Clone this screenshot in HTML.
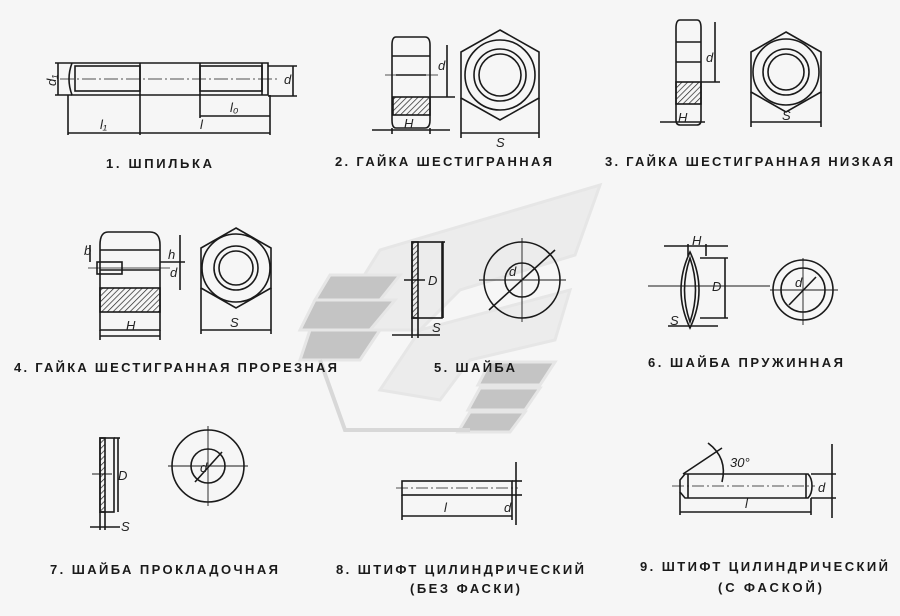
<!DOCTYPE html>
<html><head><meta charset="utf-8"><style>
html,body{margin:0;padding:0;background:#f6f6f6;}
svg{display:block}
text{font-family:"Liberation Sans",sans-serif;font-weight:bold;fill:#1a1a1a;}
.l{font-size:13px}
.i{font-family:"Liberation Sans",sans-serif;font-style:italic;font-weight:normal;font-size:13px;fill:#222}
</style></head><body>
<svg width="900" height="616" viewBox="0 0 900 616" xmlns="http://www.w3.org/2000/svg">
<defs>
<pattern id="h" width="4" height="4" patternUnits="userSpaceOnUse" patternTransform="rotate(45)"><line x1="0" y1="0" x2="0" y2="4" stroke="#222" stroke-width="1.4"/></pattern>
</defs>
<!-- watermark -->
<g fill="#dcdcdc" stroke="#e6e6e6" stroke-width="3">
<path d="M330 330 L380 250 L600 185 L575 255 L460 290 L420 330 Z" fill="#ececec"/>
<path d="M380 390 L420 330 L570 290 L555 340 L470 360 L440 400 Z" fill="#ececec"/>
<polygon points="330,275 400,275 380,300 315,300" fill="#c4c4c4"/>
<polygon points="315,300 395,300 370,330 300,330" fill="#c4c4c4"/>
<polygon points="310,330 380,330 360,360 300,360" fill="#c4c4c4"/>
<polygon points="490,362 555,362 540,385 478,385" fill="#c4c4c4"/>
<polygon points="480,388 540,388 525,410 468,410" fill="#c4c4c4"/>
<polygon points="470,412 525,412 510,432 458,432" fill="#c4c4c4"/>
<path d="M320 360 L345 430 L470 430" fill="none" stroke="#d8d8d8" stroke-width="4"/>
</g>
<g fill="none" stroke="#1a1a1a" stroke-width="1.6">
<!-- 1 stud -->
<path d="M72 63 H268 V95 H72 Q66 79 72 63"/>
<line x1="140" y1="63" x2="140" y2="135"/>
<line x1="200" y1="63" x2="200" y2="118"/>
<line x1="262" y1="63" x2="262" y2="95"/>
<rect x="75" y="66" width="65" height="25"/>
<rect x="200" y="66" width="62" height="25"/>
<line x1="60" y1="79" x2="280" y2="79" stroke-dasharray="14 3 2 3" stroke-width="0.8"/>
<line x1="68" y1="95" x2="68" y2="135"/><line x1="270" y1="95" x2="270" y2="135"/>
<line x1="68" y1="133" x2="270" y2="133"/><line x1="200" y1="116" x2="270" y2="116"/>
<line x1="55" y1="63" x2="72" y2="63"/><line x1="55" y1="95" x2="72" y2="95"/><line x1="58" y1="63" x2="58" y2="95"/>
<line x1="268" y1="66" x2="297" y2="66"/><line x1="268" y1="96" x2="297" y2="96"/><line x1="293" y1="66" x2="293" y2="96"/>
<!-- 2 nut -->
<path d="M396 37 H425 Q430 37 430 45 V120 Q430 128 425 128 H396 Q392 128 392 120 V45 Q392 37 396 37Z"/>
<line x1="392" y1="56" x2="430" y2="56"/><line x1="396" y1="75" x2="426" y2="75"/>
<rect x="393" y="97" width="37" height="18" fill="url(#h)"/>
<line x1="385" y1="75" x2="438" y2="75" stroke-width="0.8"/>
<line x1="430" y1="97" x2="455" y2="97"/><line x1="447" y1="45" x2="447" y2="97"/>
<line x1="392" y1="128" x2="392" y2="134"/><line x1="430" y1="128" x2="430" y2="134"/><line x1="372" y1="130" x2="450" y2="130"/>
<polygon points="500,30 539,52 539,98 500,120 461,98 461,52"/>
<circle cx="500" cy="75" r="35"/><circle cx="500" cy="75" r="26"/><circle cx="500" cy="75" r="21"/>
<line x1="461" y1="98" x2="461" y2="138"/><line x1="539" y1="98" x2="539" y2="138"/><line x1="461" y1="133" x2="539" y2="133"/>
<!-- 3 thin nut -->
<path d="M680 20 H697 Q701 20 701 28 V120 Q701 125 697 125 H680 Q676 125 676 120 V28 Q676 20 680 20Z"/>
<line x1="676" y1="42" x2="701" y2="42"/><line x1="676" y1="62" x2="701" y2="62"/>
<rect x="676" y="82" width="25" height="22" fill="url(#h)"/>
<line x1="701" y1="82" x2="720" y2="82"/><line x1="715" y1="22" x2="715" y2="82"/>
<line x1="660" y1="122" x2="705" y2="122"/>
<polygon points="786,32 821,52 821,92 786,112 751,92 751,52"/>
<circle cx="786" cy="72" r="33"/><circle cx="786" cy="72" r="23"/><circle cx="786" cy="72" r="18"/>
<line x1="751" y1="92" x2="751" y2="127"/><line x1="821" y1="92" x2="821" y2="127"/><line x1="751" y1="122" x2="821" y2="122"/>
<!-- 4 slotted nut -->
<path d="M108 232 H150 Q160 232 160 245 V330 H100 V245 Q100 232 108 232Z"/>
<line x1="100" y1="250" x2="160" y2="250"/><line x1="100" y1="270" x2="160" y2="270"/>
<rect x="100" y="288" width="60" height="24" fill="url(#h)"/>
<rect x="97" y="262" width="25" height="12"/>
<line x1="88" y1="268" x2="170" y2="268" stroke-width="0.8"/>
<line x1="160" y1="262" x2="185" y2="262"/><line x1="180" y1="235" x2="180" y2="290"/>
<line x1="100" y1="330" x2="100" y2="340"/><line x1="160" y1="330" x2="160" y2="340"/><line x1="100" y1="336" x2="160" y2="336"/>
<line x1="90" y1="245" x2="90" y2="262"/>
<polygon points="236,228 271,248 271,288 236,308 201,288 201,248"/>
<circle cx="236" cy="268" r="34"/><circle cx="236" cy="268" r="22"/><circle cx="236" cy="268" r="17"/>
<line x1="201" y1="288" x2="201" y2="334"/><line x1="271" y1="288" x2="271" y2="334"/><line x1="201" y1="330" x2="271" y2="330"/>
<!-- 5 washer -->
<rect x="412" y="242" width="30" height="76"/>
<rect x="412" y="242" width="6" height="76" fill="url(#h)"/>
<line x1="404" y1="280" x2="425" y2="280"/>
<line x1="442" y1="242" x2="445" y2="242"/><line x1="443" y1="242" x2="443" y2="318"/>
<line x1="412" y1="318" x2="412" y2="338"/><line x1="418" y1="318" x2="418" y2="338"/><line x1="392" y1="335" x2="440" y2="335"/>
<circle cx="522" cy="280" r="38"/><circle cx="522" cy="280" r="17"/>
<line x1="479" y1="280" x2="566" y2="280" stroke-width="0.9"/><line x1="522" y1="238" x2="522" y2="322" stroke-width="0.9"/>
<line x1="489" y1="310" x2="555" y2="250"/>
<!-- 6 spring washer -->
<path d="M690 252 Q672 290 690 328 Q708 290 690 252Z"/>
<path d="M690 258 Q679 290 690 322 Q701 290 690 258Z"/>
<line x1="648" y1="286" x2="770" y2="286" stroke-width="0.9"/>
<line x1="664" y1="246" x2="728" y2="246"/>
<line x1="688" y1="244" x2="688" y2="256"/><line x1="706" y1="244" x2="706" y2="256"/>
<line x1="700" y1="258" x2="728" y2="258"/><line x1="725" y1="258" x2="725" y2="318"/><line x1="700" y1="318" x2="728" y2="318"/>
<line x1="668" y1="326" x2="718" y2="326"/>
<circle cx="803" cy="290" r="30"/><circle cx="803" cy="290" r="22"/>
<line x1="770" y1="290" x2="838" y2="290" stroke-width="0.9"/><line x1="803" y1="258" x2="803" y2="325" stroke-width="0.9"/>
<line x1="789" y1="305" x2="816" y2="277"/>
<!-- 7 washer -->
<rect x="100" y="438" width="14" height="74"/>
<rect x="100" y="438" width="5" height="74" fill="url(#h)"/>
<line x1="92" y1="474" x2="112" y2="474" stroke-width="0.9"/>
<line x1="114" y1="438" x2="120" y2="438"/><line x1="118" y1="438" x2="118" y2="512"/>
<line x1="100" y1="512" x2="100" y2="530"/><line x1="105" y1="512" x2="105" y2="530"/><line x1="90" y1="527" x2="120" y2="527"/>
<circle cx="208" cy="466" r="36"/><circle cx="208" cy="466" r="17"/>
<line x1="168" y1="466" x2="248" y2="466" stroke-width="0.9"/><line x1="208" y1="426" x2="208" y2="506" stroke-width="0.9"/>
<line x1="195" y1="482" x2="222" y2="452"/>
<!-- 8 pin -->
<rect x="402" y="481" width="110" height="14"/>
<line x1="396" y1="488" x2="518" y2="488" stroke-width="0.8" stroke-dasharray="12 3 2 3"/>
<line x1="402" y1="495" x2="402" y2="520"/><line x1="512" y1="495" x2="512" y2="520"/><line x1="402" y1="516" x2="512" y2="516"/>
<line x1="512" y1="481" x2="522" y2="481"/><line x1="512" y1="495" x2="522" y2="495"/><line x1="516" y1="462" x2="516" y2="525"/>
<!-- 9 pin chamfer -->
<path d="M685 474 H808 Q812 478 812 486 Q812 494 808 498 H685 L680 492 V480 Z"/>
<line x1="688" y1="474" x2="688" y2="498"/><line x1="806" y1="474" x2="806" y2="498"/>
<line x1="672" y1="486" x2="815" y2="486" stroke-width="0.8" stroke-dasharray="12 3 2 3"/>
<line x1="683" y1="474" x2="722" y2="448"/>
<path d="M708 443 Q728 458 722 482"/>
<line x1="680" y1="492" x2="680" y2="515"/><line x1="811" y1="498" x2="811" y2="515"/><line x1="680" y1="512" x2="811" y2="512"/>
<line x1="811" y1="474" x2="836" y2="474"/><line x1="811" y1="498" x2="836" y2="498"/><line x1="832" y1="444" x2="832" y2="518"/>
</g>
<!-- dimension letters -->
<text class="i" x="46" y="84" transform="rotate(-90 52 80)">d₁</text>
<text class="i" x="284" y="84">d</text>
<text class="i" x="100" y="129">l₁</text>
<text class="i" x="200" y="129">l</text>
<text class="i" x="230" y="112">l₀</text>
<text class="i" x="438" y="70">d</text>
<text class="i" x="404" y="128">H</text>
<text class="i" x="496" y="147">S</text>
<text class="i" x="706" y="62">d</text>
<text class="i" x="678" y="122">H</text>
<text class="i" x="782" y="120">S</text>
<text class="i" x="84" y="255">b</text>
<text class="i" x="168" y="259">h</text>
<text class="i" x="170" y="277">d</text>
<text class="i" x="126" y="330">H</text>
<text class="i" x="230" y="327">S</text>
<text class="i" x="428" y="285">D</text>
<text class="i" x="432" y="332">S</text>
<text class="i" x="509" y="276">d</text>
<text class="i" x="692" y="245">H</text>
<text class="i" x="712" y="291">D</text>
<text class="i" x="670" y="325">S</text>
<text class="i" x="795" y="287">d</text>
<text class="i" x="118" y="480">D</text>
<text class="i" x="121" y="531">S</text>
<text class="i" x="200" y="472">d</text>
<text class="i" x="444" y="512">l</text>
<text class="i" x="504" y="512">d</text>
<text class="i" x="730" y="467">30°</text>
<text class="i" x="745" y="508">l</text>
<text class="i" x="818" y="492">d</text>
<!-- labels -->
<text class="l" x="106" y="168" textLength="106" lengthAdjust="spacing">1. ШПИЛЬКА</text>
<text class="l" x="335" y="166" textLength="217" lengthAdjust="spacing">2. ГАЙКА ШЕСТИГРАННАЯ</text>
<text class="l" x="605" y="166" textLength="288" lengthAdjust="spacing">3. ГАЙКА ШЕСТИГРАННАЯ НИЗКАЯ</text>
<text class="l" x="14" y="372" textLength="323" lengthAdjust="spacing">4. ГАЙКА ШЕСТИГРАННАЯ ПРОРЕЗНАЯ</text>
<text class="l" x="434" y="372" textLength="81" lengthAdjust="spacing">5. ШАЙБА</text>
<text class="l" x="648" y="367" textLength="195" lengthAdjust="spacing">6. ШАЙБА ПРУЖИННАЯ</text>
<text class="l" x="50" y="574" textLength="228" lengthAdjust="spacing">7. ШАЙБА ПРОКЛАДОЧНАЯ</text>
<text class="l" x="336" y="574" textLength="248" lengthAdjust="spacing">8. ШТИФТ ЦИЛИНДРИЧЕСКИЙ</text>
<text class="l" x="410" y="593" textLength="110" lengthAdjust="spacing">(БЕЗ ФАСКИ)</text>
<text class="l" x="640" y="571" textLength="248" lengthAdjust="spacing">9. ШТИФТ ЦИЛИНДРИЧЕСКИЙ</text>
<text class="l" x="718" y="592" textLength="104" lengthAdjust="spacing">(С ФАСКОЙ)</text>
</svg>
</body></html>
